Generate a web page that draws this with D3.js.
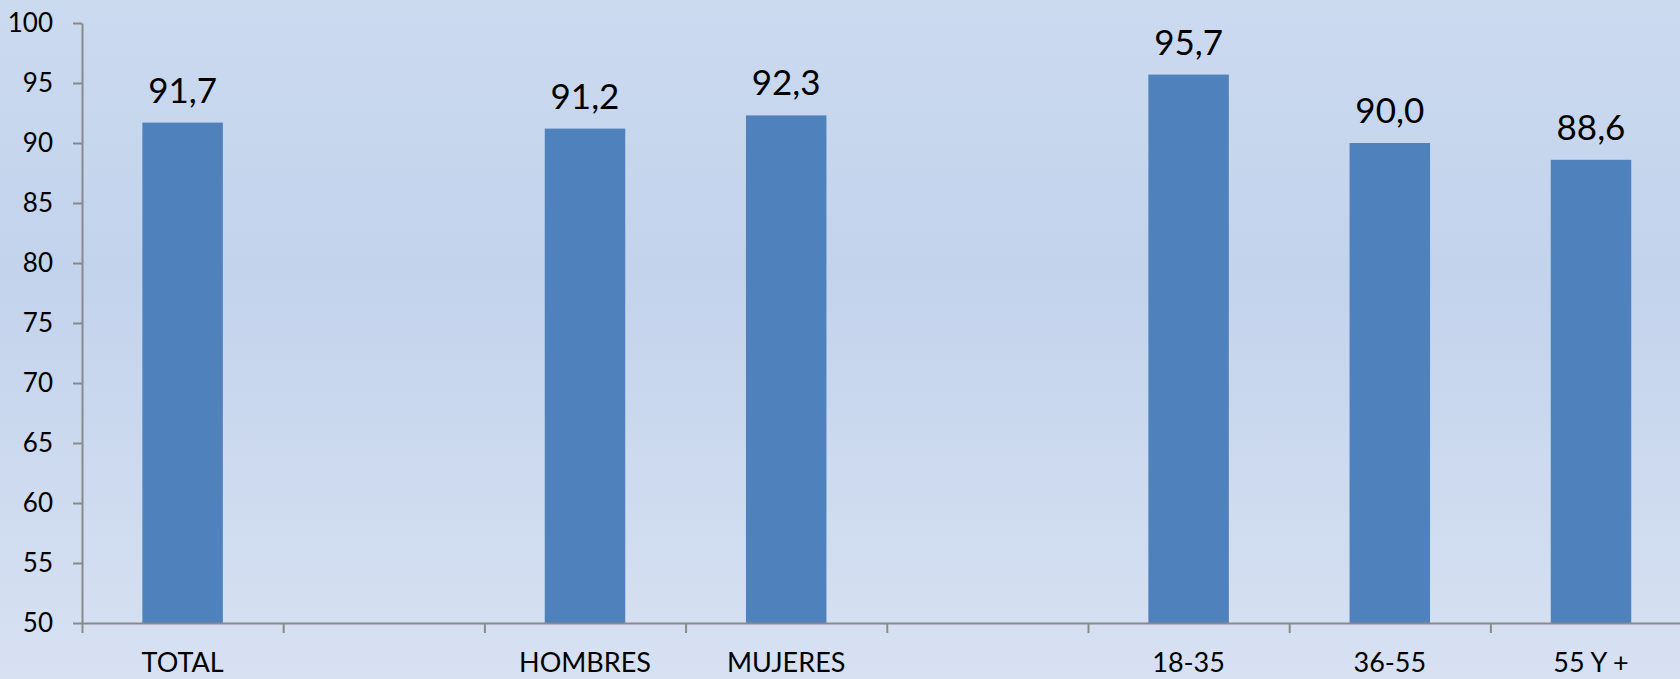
<!DOCTYPE html>
<html>
<head>
<meta charset="utf-8">
<script src="https://cdn.jsdelivr.net/npm/d3@7"></script>
<style>
  body { margin: 0; overflow: hidden; }
  svg { display: block; }
  .axis path, .axis line { stroke: #8a8a8a; stroke-width: 2; }
  .axis text { font-family: Lato, "Open Sans", sans-serif; fill: #000; }
</style>
</head>
<body>
<script>
// categories (empty slots are gaps between the groups)
var categories = ["TOTAL", "", "HOMBRES", "MUJERES", "", "18-35", "36-55", "55 Y +"];
var values = [91.7, null, 91.2, 92.3, null, 95.7, 90.0, 88.6];
var labels = ["91,7", "", "91,2", "92,3", "", "95,7", "90,0", "88,6"];
var yTicks = [50, 55, 60, 65, 70, 75, 80, 85, 90, 95, 100];

var w = 1680, h = 679;
var margin = {top: 23, left: 82, bottom: 56};
var bandW = 201.2;

var svg = d3.select("body").append("svg")
    .attr("width", w)
    .attr("height", h);

// background gradient
var grad = svg.append("defs").append("linearGradient")
    .attr("id", "bg")
    .attr("x1", 0).attr("y1", 0).attr("x2", 0).attr("y2", 1);
grad.append("stop").attr("offset", "0%").attr("stop-color", "#cbdaef");
grad.append("stop").attr("offset", "40%").attr("stop-color", "#c3d3ec");
grad.append("stop").attr("offset", "100%").attr("stop-color", "#d7e1f2");

svg.append("rect")
    .attr("width", w)
    .attr("height", h)
    .attr("fill", "url(#bg)");

var yScale = d3.scaleLinear()
    .domain([50, 100])
    .range([h - margin.bottom, margin.top]);

var xScale = d3.scaleBand()
    .domain(d3.range(categories.length))
    .range([margin.left, margin.left + bandW * categories.length])
    .padding(0);

var xEdges = d3.scaleLinear()
    .domain([0, categories.length])
    .range([margin.left, margin.left + bandW * categories.length]);

// bars
var barData = values.map(function(v, i) { return {i: i, v: v, label: labels[i]}; })
    .filter(function(d) { return d.v !== null; });

svg.append("g")
  .selectAll("rect")
  .data(barData)
  .enter()
  .append("rect")
    .attr("x", function(d) { return xScale(d.i) + xScale.bandwidth() * 0.3; })
    .attr("width", xScale.bandwidth() * 0.4)
    .attr("y", function(d) { return yScale(d.v); })
    .attr("height", function(d) { return yScale(50) - yScale(d.v); })
    .attr("fill", "#4f81bd");

// value labels
svg.append("g")
  .selectAll("text")
  .data(barData)
  .enter()
  .append("text")
    .attr("x", function(d) { return xScale(d.i) + xScale.bandwidth() / 2; })
    .attr("y", function(d) { return yScale(d.v) - 20; })
    .attr("text-anchor", "middle")
    .style("font-family", "Lato, 'Open Sans', sans-serif")
    .style("font-size", "35px")
    .text(function(d) { return d.label; });

// y axis
var yAxis = d3.axisLeft(yScale)
    .tickValues(yTicks)
    .tickSize(9)
    .tickSizeOuter(0)
    .tickPadding(20);

svg.append("g")
    .attr("class", "axis")
    .attr("transform", "translate(" + margin.left + ",0)")
    .call(yAxis)
    .selectAll("text")
    .style("font-size", "26px");

// x axis: boundary ticks
var xAxis = d3.axisBottom(xEdges)
    .tickValues(d3.range(0, categories.length + 1))
    .tickFormat("")
    .tickSize(10)
    .tickSizeOuter(0);

svg.append("g")
    .attr("class", "axis")
    .attr("transform", "translate(0," + yScale(50) + ")")
    .call(xAxis);

// x axis: category labels
var xLabels = d3.axisBottom(xScale)
    .tickFormat(function(i) { return categories[i]; })
    .tickSize(0)
    .tickPadding(30);

var gl = svg.append("g")
    .attr("class", "axis")
    .attr("transform", "translate(0," + yScale(50) + ")")
    .call(xLabels);
gl.select(".domain").remove();
gl.selectAll("text").style("font-size", "27px");
</script>
</body>
</html>
